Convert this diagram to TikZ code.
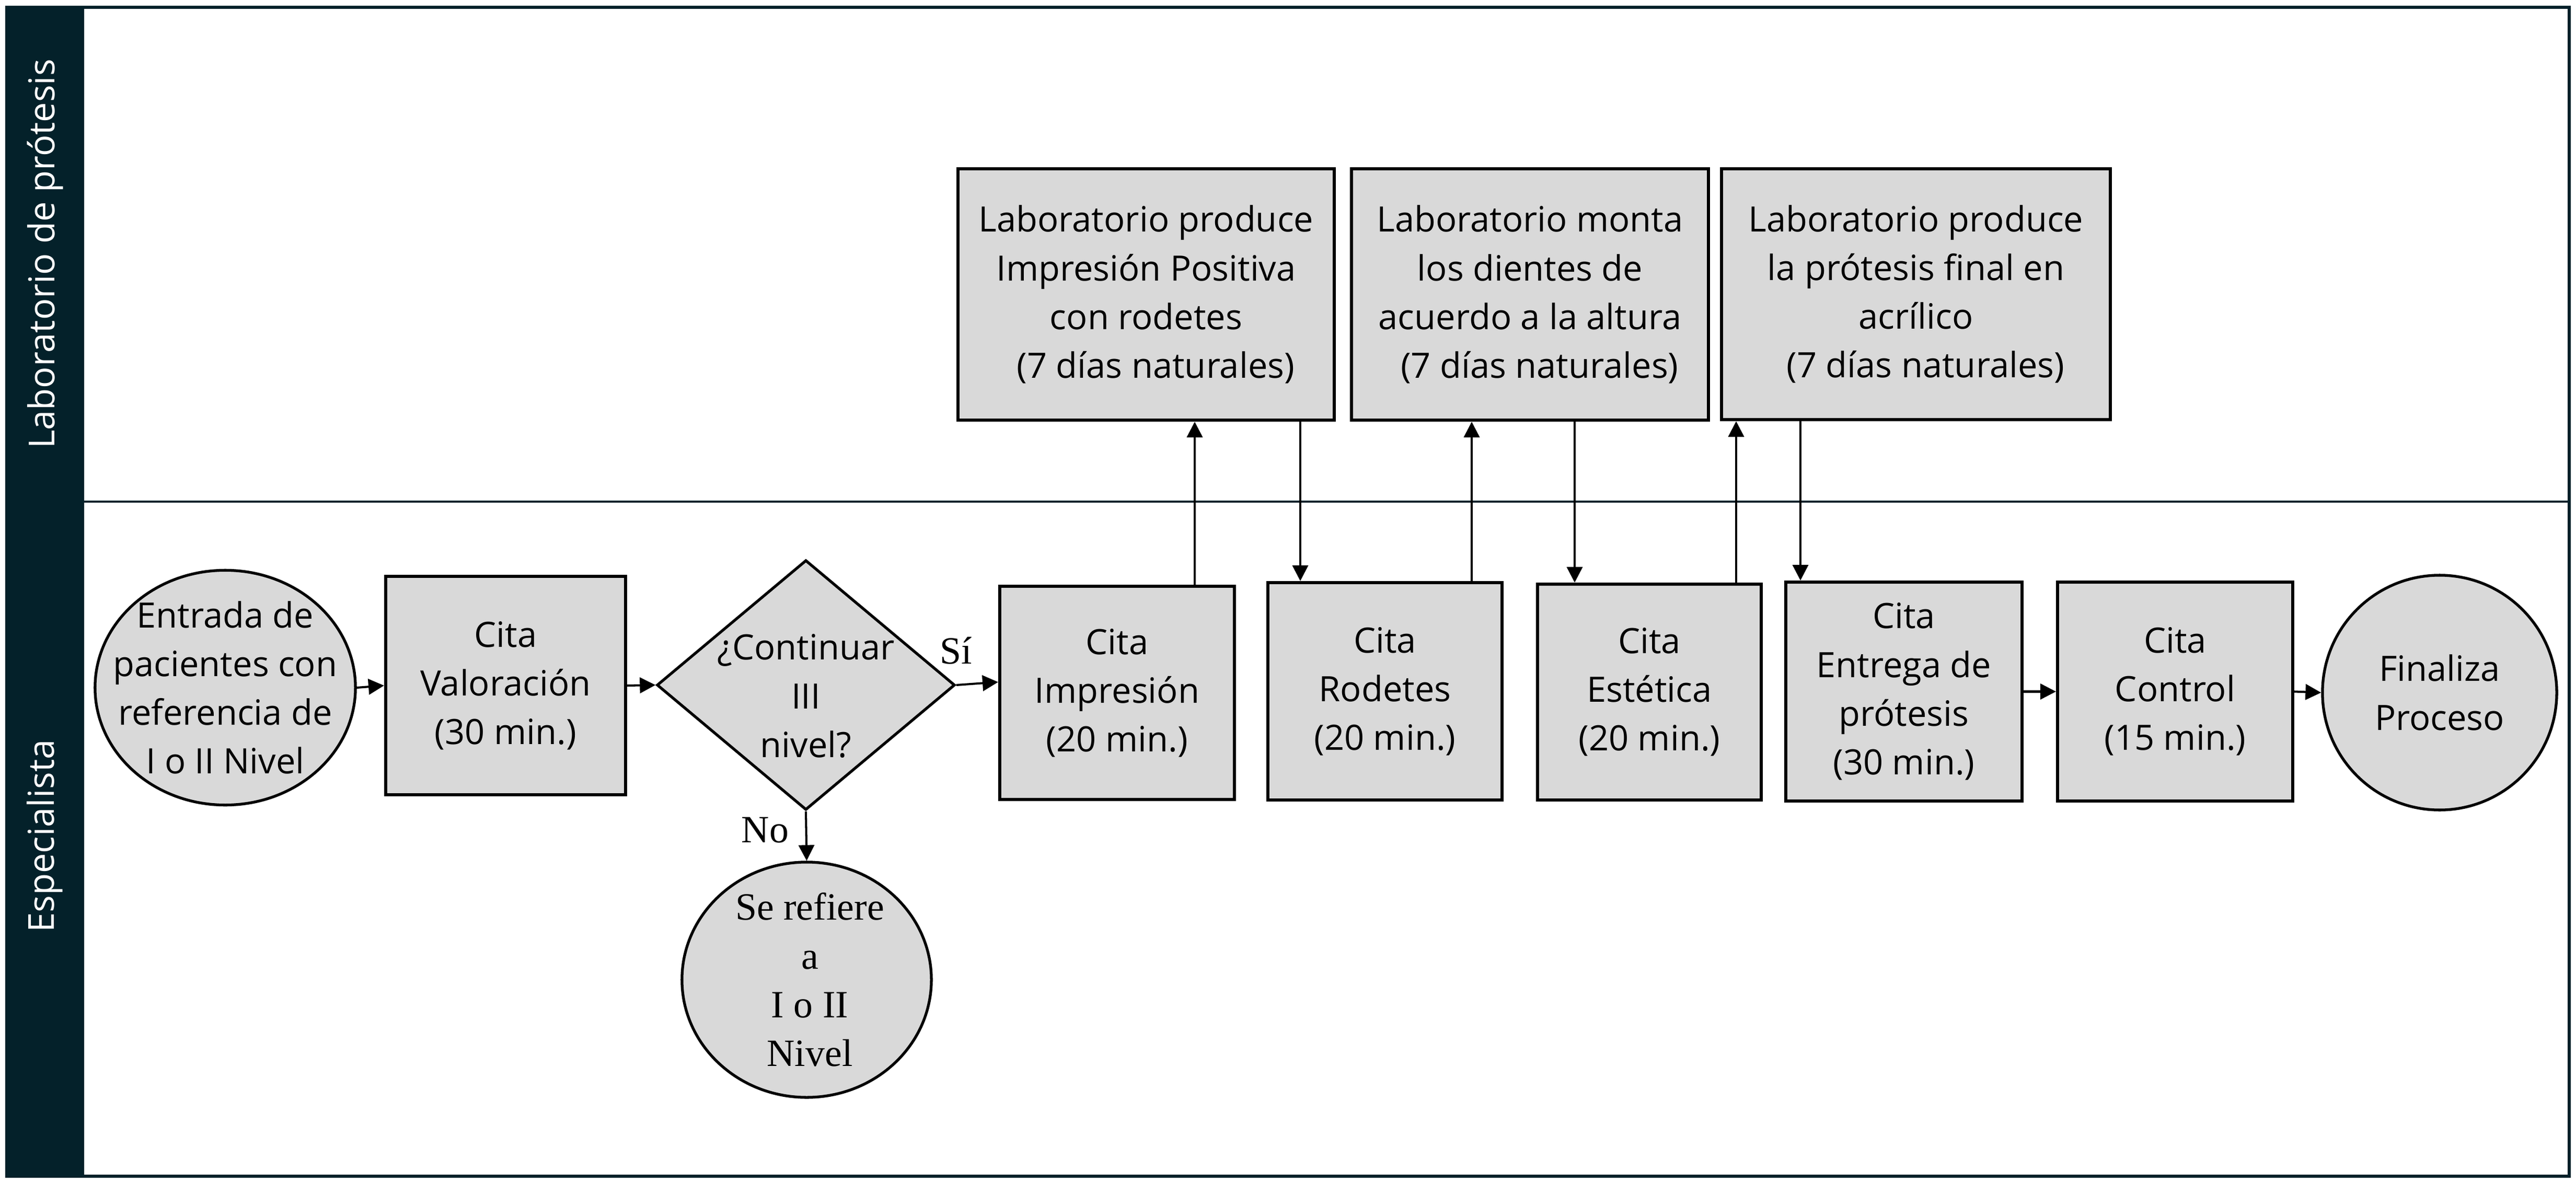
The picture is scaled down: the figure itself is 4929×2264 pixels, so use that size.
\documentclass[tikz,border=0pt]{standalone}
\usepackage{fontspec}
\setmainfont{Open Sans}
\newfontfamily\tnr{Liberation Serif}
\usetikzlibrary{shapes.geometric,arrows.meta,calc}
\definecolor{lanedark}{RGB}{4,33,42}
\definecolor{boxgray}{RGB}{217,217,217}
\begin{document}
\begin{tikzpicture}[x=0.01cm,y=-0.01cm,
  every node/.style={font=\fontsize{19pt}{26.5pt}\selectfont, align=center},
  serifnode/.style={font=\tnr\fontsize{21pt}{26.5pt}\selectfont},
  procbox/.style={draw=black, line width=1.7pt, fill=boxgray, rectangle, inner sep=0pt},
  termcirc/.style={draw=black, line width=1.5pt, fill=boxgray, ellipse, inner sep=0pt},
  decbox/.style={draw=black, line width=1.5pt, fill=boxgray, diamond, inner sep=0pt},
  lanetext/.style={rotate=90, text=white, font=\fontsize{19.5pt}{24pt}\selectfont},
  arr/.style={-{Triangle[length=8.5pt,width=8.5pt]}, line width=1.15pt, black},
]
\useasboundingbox (0,0) rectangle (4929,2264);
% swimlane frame
\fill[lanedark] (10,11) rectangle (161,2254);
\draw[lanedark, line width=1.7pt] (13,14) rectangle (4916,2251);
\draw[lanedark, line width=1.2pt] (161,960) -- (4916,960);
\node[lanetext] (lanelab) at (86,486) {Laboratorio de prótesis};
\node[lanetext] (laneesp) at (86,1600) {Especialista};

% lower lane
\node[termcirc, minimum width=4.98cm, minimum height=4.49cm,
  label={center:{Entrada de\\pacientes con\\referencia de\\I o II Nivel}}] (entry) at (431,1316) {};
\node[procbox, minimum width=4.59cm, minimum height=4.18cm] (val) at (967.5,1312) {Cita\\Valoración\\(30 min.)};
\node[decbox, minimum width=5.70cm, minimum height=4.78cm,
  label={[yshift=-0.21cm]center:{¿Continuar\\III\\nivel?}}] (dia) at (1542,1311) {};
\node[termcirc, minimum width=4.77cm, minimum height=4.50cm,
  label={[serifnode, xshift=0.06cm]center:{Se refiere\\a\\I o II\\Nivel}}] (ref) at (1543.5,1875) {};
\node[procbox, minimum width=4.49cm, minimum height=4.08cm] (imp) at (2137.5,1326) {Cita\\Impresión\\(20 min.)};
\node[procbox, minimum width=4.48cm, minimum height=4.16cm] (rod) at (2650,1323) {Cita\\Rodetes\\(20 min.)};
\node[procbox, minimum width=4.28cm, minimum height=4.13cm] (est) at (3156,1324.5) {Cita\\Estética\\(20 min.)};
\node[procbox, minimum width=4.52cm, minimum height=4.19cm] (ent) at (3643,1323.5) {Cita\\Entrega de\\prótesis\\(30 min.)};
\node[procbox, minimum width=4.50cm, minimum height=4.19cm] (con) at (4162,1323.5) {Cita\\Control\\(15 min.)};
\node[termcirc, minimum width=4.48cm, minimum height=4.49cm] (fin) at (4668,1325.5) {Finaliza\\Proceso};

% upper lane
\node[procbox, minimum width=7.20cm, minimum height=4.81cm] (lab1) at (2193,563.5)
  {Laboratorio produce\\Impresión Positiva\\con rodetes\\\hspace*{0.55em}(7 días naturales)};
\node[procbox, minimum width=6.83cm, minimum height=4.81cm] (lab2) at (2927.5,563.5)
  {Laboratorio monta\\los dientes de\\acuerdo a la altura\\\hspace*{0.55em}(7 días naturales)};
\node[procbox, minimum width=7.44cm, minimum height=4.80cm] (lab3) at (3666,563)
  {Laboratorio produce\\la prótesis final en\\acrílico\\\hspace*{0.55em}(7 días naturales)};

% branch labels
\node[serifnode] (si) at (1829,1245) {Sí};
\node[serifnode] (no) at (1464,1589) {No};

% connector x positions
\coordinate (c1) at (2286,0);
\coordinate (c2) at (2488,0);
\coordinate (c3) at (2816,0);
\coordinate (c4) at (3013,0);
\coordinate (c5) at (3322,0);
\coordinate (c6) at (3445,0);

% connectors
\draw[arr] (entry.east) -- (val.west);
\draw[arr] (val.east) -- (dia.west);
\draw[arr] (dia.east) -- ($(imp.north west)!0.45!(imp.south west)$);
\draw[arr] (dia.south) -- (ref.north);
\draw[arr] (imp.north -| c1) -- (lab1.south -| c1);
\draw[arr] (lab1.south -| c2) -- (rod.north -| c2);
\draw[arr] (rod.north -| c3) -- (lab2.south -| c3);
\draw[arr] (lab2.south -| c4) -- (est.north -| c4);
\draw[arr] (est.north -| c5) -- (lab3.south -| c5);
\draw[arr] (lab3.south -| c6) -- (ent.north -| c6);
\draw[arr] (ent.east) -- (con.west);
\draw[arr] (con.east) -- (fin.west);
\end{tikzpicture}
\end{document}
